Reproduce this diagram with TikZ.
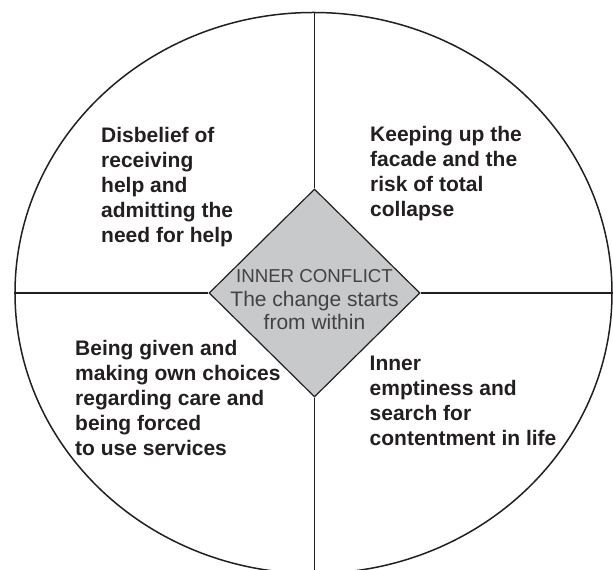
\documentclass[tikz,border=0pt]{standalone}
\usepackage{fontspec}
\setmainfont{Liberation Sans}
\usetikzlibrary{shapes.geometric}
\definecolor{ink}{RGB}{35,31,32}
\definecolor{dfill}{RGB}{200,201,203}
\begin{document}
\begin{tikzpicture}[x=1pt,y=1pt,
  ring/.style={ellipse, draw=ink, line width=1.5pt, minimum width=597pt, minimum height=561pt, inner sep=0pt},
  core/.style={diamond, draw=ink, fill=dfill, line width=1.2pt, minimum width=211pt, minimum height=208pt, inner sep=0pt},
  divider/.style={draw=ink, line width=1.3pt},
  quad/.style={font=\fontsize{21}{25}\selectfont\bfseries, text=ink, align=left, inner sep=0pt, anchor=base west},
  coretext/.style={font=\fontsize{21}{23.5}\selectfont, text=ink!85, align=center, inner sep=0pt, anchor=base}]
\useasboundingbox (0,0) rectangle (613,570);
\clip (0,0) rectangle (613,570);
\node[ring] (ring) at (313.5,277) {};
\node[core] (core) at (314.5,277) {};
\path[divider] (ring.north -| core.north) -- (core.north);
\path[divider] (core.south) -- (ring.south -| core.south);
\path[divider] (ring.west) -- (core.west);
\path[divider] (core.east) -- (ring.east);
\node[coretext] (ctext) at (314.5,240) {{\fontsize{18.7}{23.5}\selectfont INNER CONFLICT}\\The change starts\\from within};
\node[quad] (q1) at (101,327) {Disbelief of\\receiving\\help and\\admitting the\\need for help};
\node[quad] (q2) at (370,353.5) {Keeping up the\\facade and the\\risk of total\\collapse};
\node[quad] (q3) at (75,114) {Being given and\\making own choices\\regarding care and\\being forced\\to use services};
\node[quad] (q4) at (369.5,124) {Inner\\emptiness and\\search for\\contentment in life};
\end{tikzpicture}
\end{document}
